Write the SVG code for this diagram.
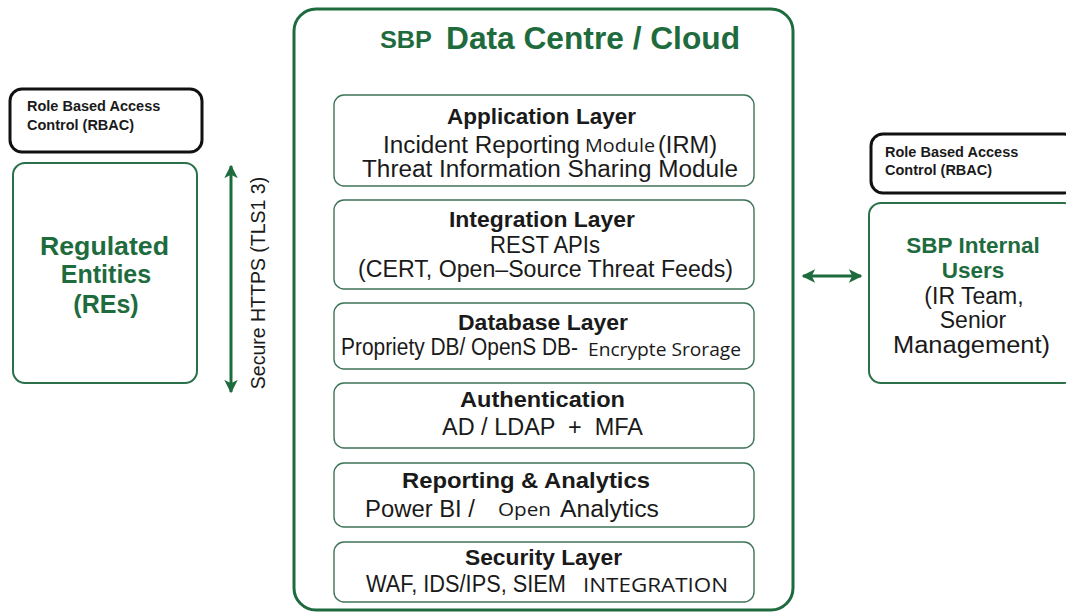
<svg xmlns="http://www.w3.org/2000/svg" width="1066" height="612" viewBox="0 0 1066 612">
  <defs>
    <marker id="arrow" viewBox="0 0 10 10" refX="9" refY="5" markerWidth="4.5" markerHeight="4.5" orient="auto-start-reverse">
      <path d="M0,0 L10,5 L0,10 L2.5,5 Z" fill="#1e6b3e"/>
    </marker>
    <style>
      .bg { fill: #ffffff; }
      .outer { fill: #ffffff; stroke: #1e6b3e; stroke-width: 3; }
      .layer { fill: #ffffff; stroke: #3f7356; stroke-width: 1.4; }
      .rbac { fill: #ffffff; stroke: #111111; stroke-width: 3; }
      .actor { fill: #ffffff; stroke: #2a7048; stroke-width: 2; }
      .sans { font-family: "Liberation Sans", Arial, sans-serif; fill: #1a1a1a; }
      .wide { font-family: "Open Sans", "Liberation Sans", sans-serif; fill: #1a1a1a; }
      .ttl { font-family: "Liberation Sans", Arial, sans-serif; font-weight: bold; font-size: 22.5px; fill: #1a1a1a; }
      .det { font-family: "Liberation Sans", Arial, sans-serif; font-size: 23px; fill: #1a1a1a; }
      .green { fill: #1e6b3e; }
      .rb { font-family: "Liberation Sans", Arial, sans-serif; font-weight: bold; font-size: 14.5px; fill: #1a1a1a; }
      .link { stroke: #1e6b3e; stroke-width: 3; fill: none; }
    </style>
  </defs>

  <rect class="bg" x="0" y="0" width="1066" height="612"/>

  <!-- Data centre container -->
  <g id="datacentre">
    <rect class="outer" x="294" y="9" width="499" height="601" rx="22"/>
    <text class="sans green" x="380" y="48" font-weight="bold" font-size="24" textLength="52" lengthAdjust="spacingAndGlyphs">SBP</text>
    <text class="sans green" x="446" y="49" font-weight="bold" font-size="30.5" textLength="294" lengthAdjust="spacingAndGlyphs">Data Centre / Cloud</text>
  </g>

  <g id="application-layer">
    <rect class="layer" x="334" y="95" width="420" height="91" rx="10"/>
    <text class="ttl" x="447" y="124" textLength="189" lengthAdjust="spacingAndGlyphs">Application Layer</text>
    <text class="det" x="383" y="153" font-size="24" textLength="197" lengthAdjust="spacingAndGlyphs">Incident Reporting</text>
    <text class="wide" x="585" y="152" font-size="19" textLength="70" lengthAdjust="spacingAndGlyphs">Module</text>
    <text class="det" x="658" y="153" font-size="24" textLength="59" lengthAdjust="spacingAndGlyphs">(IRM)</text>
    <text class="det" x="362" y="177" font-size="24" textLength="376" lengthAdjust="spacingAndGlyphs">Threat Information Sharing Module</text>
  </g>

  <g id="integration-layer">
    <rect class="layer" x="334" y="200" width="420" height="89" rx="10"/>
    <text class="ttl" x="449" y="227" textLength="186" lengthAdjust="spacingAndGlyphs">Integration Layer</text>
    <text class="det" x="490" y="253" textLength="110" lengthAdjust="spacingAndGlyphs">REST APIs</text>
    <text class="det" x="358" y="277" textLength="375" lengthAdjust="spacingAndGlyphs">(CERT, Open–Source Threat Feeds)</text>
  </g>

  <g id="database-layer">
    <rect class="layer" x="334" y="303" width="420" height="66" rx="10"/>
    <text class="ttl" x="458" y="330" textLength="170" lengthAdjust="spacingAndGlyphs">Database Layer</text>
    <text class="det" x="341" y="355" font-size="20.5" textLength="237" lengthAdjust="spacingAndGlyphs">Propriety DB/ OpenS DB-</text>
    <text class="wide" x="588" y="356" font-size="18" textLength="153" lengthAdjust="spacingAndGlyphs">Encrypte Srorage</text>
  </g>

  <g id="authentication">
    <rect class="layer" x="334" y="383" width="420" height="65" rx="10"/>
    <text class="ttl" x="460" y="407" textLength="165" lengthAdjust="spacingAndGlyphs">Authentication</text>
    <text class="det" x="442" y="435" xml:space="preserve" textLength="201" lengthAdjust="spacingAndGlyphs">AD / LDAP  +  MFA</text>
  </g>

  <g id="reporting-analytics">
    <rect class="layer" x="334" y="463" width="420" height="64" rx="10"/>
    <text class="ttl" x="402" y="488" textLength="248" lengthAdjust="spacingAndGlyphs">Reporting &amp; Analytics</text>
    <text class="det" x="365" y="517" textLength="110" lengthAdjust="spacingAndGlyphs">Power BI /</text>
    <text class="wide" x="498" y="516" font-size="19" textLength="53" lengthAdjust="spacingAndGlyphs">Open</text>
    <text class="det" x="560" y="517" textLength="99" lengthAdjust="spacingAndGlyphs">Analytics</text>
  </g>

  <g id="security-layer">
    <rect class="layer" x="334" y="542" width="420" height="60" rx="10"/>
    <text class="ttl" x="465" y="565" textLength="157" lengthAdjust="spacingAndGlyphs">Security Layer</text>
    <text class="det" x="366" y="592" font-size="22" textLength="200" lengthAdjust="spacingAndGlyphs">WAF, IDS/IPS, SIEM</text>
    <text class="wide" x="583" y="592" font-size="20" textLength="145" lengthAdjust="spacingAndGlyphs">INTEGRATION</text>
  </g>

  <!-- Left side: regulated entities -->
  <g id="rbac-left">
    <rect class="rbac" x="10" y="89" width="192" height="63" rx="12"/>
    <text class="rb" x="27" y="111">Role Based Access</text>
    <text class="rb" x="27" y="130">Control (RBAC)</text>
  </g>

  <g id="regulated-entities">
    <rect class="actor" x="13" y="163" width="184" height="220" rx="12"/>
    <text class="sans green" x="40" y="255" font-weight="bold" font-size="25" textLength="129" lengthAdjust="spacingAndGlyphs">Regulated</text>
    <text class="sans green" x="106" y="283" font-weight="bold" font-size="25" text-anchor="middle">Entities</text>
    <text class="sans green" x="106" y="313" font-weight="bold" font-size="25" text-anchor="middle">(REs)</text>
  </g>

  <!-- Right side: internal users -->
  <g id="rbac-right">
    <rect class="rbac" x="871" y="134" width="205" height="59" rx="12"/>
    <text class="rb" x="885" y="157">Role Based Access</text>
    <text class="rb" x="885" y="175">Control (RBAC)</text>
  </g>

  <g id="internal-users">
    <rect class="actor" x="869" y="203" width="207" height="180" rx="12"/>
    <text class="sans green" x="973" y="253" font-weight="bold" font-size="22.5" text-anchor="middle">SBP Internal</text>
    <text class="sans green" x="973" y="278" font-weight="bold" font-size="22.5" text-anchor="middle">Users</text>
    <text class="sans" x="974" y="304" font-size="23" text-anchor="middle">(IR Team,</text>
    <text class="sans" x="973" y="328" font-size="23" text-anchor="middle">Senior</text>
    <text class="sans" x="893" y="353" font-size="23" textLength="157" lengthAdjust="spacingAndGlyphs">Management)</text>
  </g>

  <!-- Connectors -->
  <g id="connectors">
    <line class="link" x1="231" y1="166" x2="231" y2="392" marker-start="url(#arrow)" marker-end="url(#arrow)"/>
    <text class="sans" transform="translate(265,283) rotate(-90)" font-size="19.5" text-anchor="middle">Secure HTTPS (TLS1 3)</text>
    <line class="link" x1="803" y1="276" x2="861" y2="276" marker-start="url(#arrow)" marker-end="url(#arrow)"/>
  </g>
</svg>
